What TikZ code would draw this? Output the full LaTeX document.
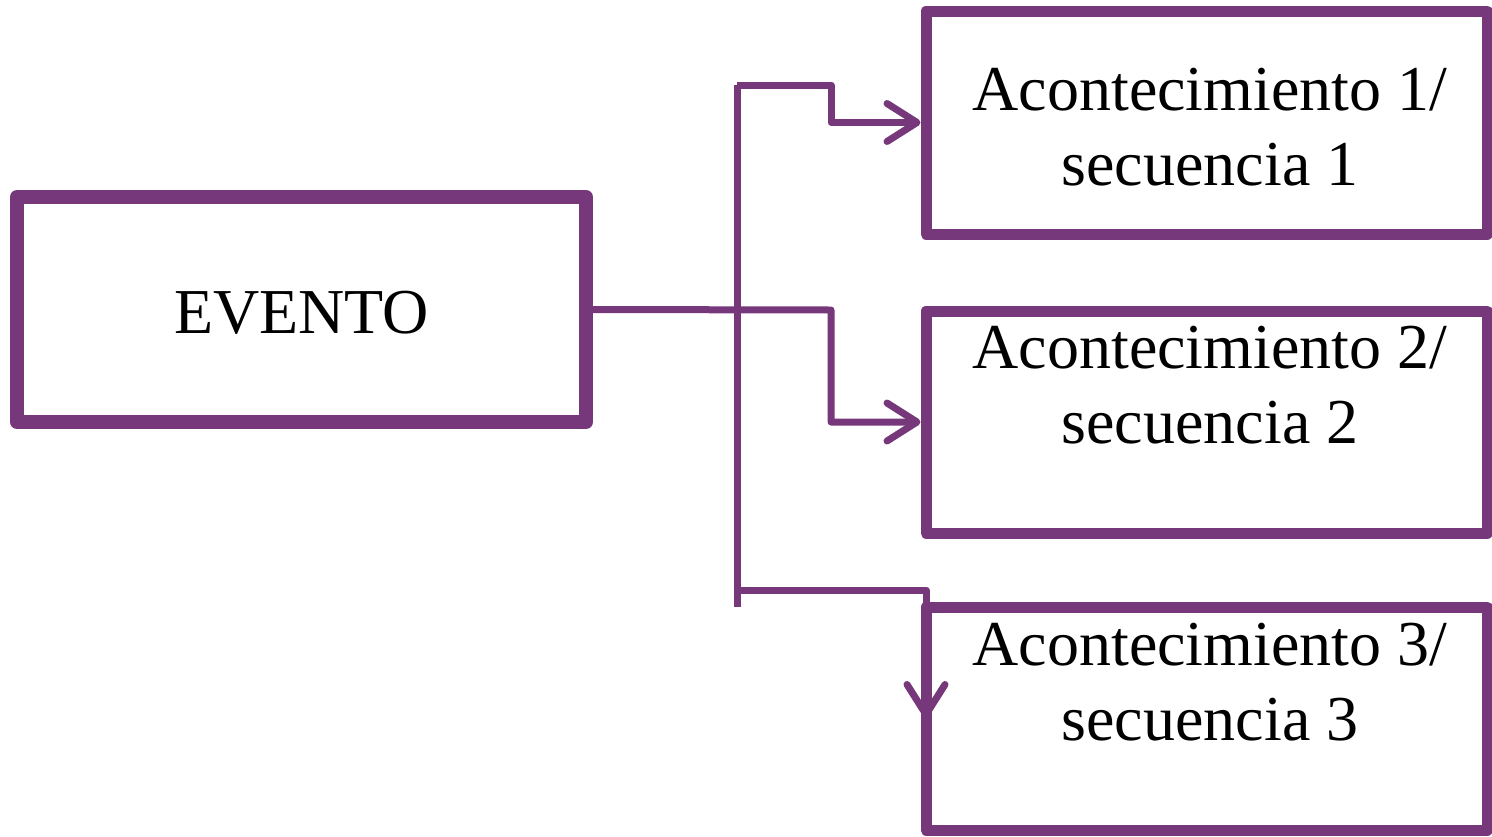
\documentclass[tikz,border=0pt]{standalone}
\usepackage{fontspec}
\setmainfont{Liberation Serif}
\usetikzlibrary{arrows.meta}
\definecolor{purp}{RGB}{118,56,122}
\begin{document}
\begin{tikzpicture}[x=1pt,y=-1pt,
  evbox/.style={draw=purp,line width=14pt,line join=round,rectangle,inner sep=0pt,
     minimum width=569pt,minimum height=225pt,text height=47pt,text depth=0pt,
     font=\fontsize{64}{75}\selectfont},
  seqbox/.style={draw=purp,line width=11pt,line join=round,rectangle,inner sep=0pt,
     minimum width=561pt},
  lbl/.style={anchor=base,inner sep=0pt,font=\fontsize{64}{75}\selectfont},
  conn/.style={draw=purp,line width=7pt,line join=round},
  arr/.style={conn,-{Straight Barb[length=30pt,width=38pt,round]}}]
\useasboundingbox (0,0) rectangle (1492,836);
\node[evbox] (ev) at (301.5,309.5) {EVENTO};
\node[seqbox,minimum height=223pt] (b1) at (1206.5,122.5) {};
\node[seqbox,minimum height=222pt] (b2) at (1206.5,422) {};
\node[seqbox,minimum height=223pt] (b3) at (1206.5,718.5) {};
\node[lbl] (t1a) at (1210,110) {Acontecimiento 1/};
\node[lbl] (t1b) at (1210,185) {secuencia 1};
\node[lbl] (t2a) at (1210,368) {Acontecimiento 2/};
\node[lbl] (t2b) at (1210,443) {secuencia 2};
\node[lbl] (t3a) at (1210,665) {Acontecimiento 3/};
\node[lbl] (t3b) at (1210,740) {secuencia 3};
\coordinate (bustop) at (737,85);
\coordinate (busbot) at (737,607);
\coordinate (a3) at (926,718);
\draw[conn] (bustop) -- (busbot);
\draw[arr] (bustop) -- (831,85) |- (b1.west);
\draw[arr] (ev.east) -- (831,310) |- (b2.west);
\draw[arr] (737,590) -| (a3);
\end{tikzpicture}
\end{document}
